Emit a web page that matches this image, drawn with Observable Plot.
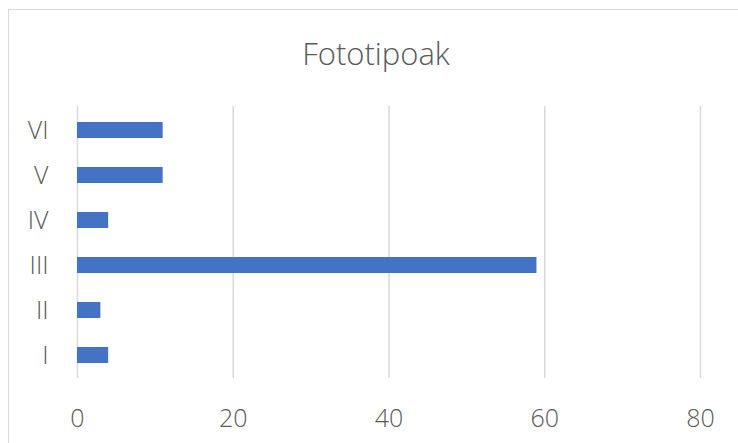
<!DOCTYPE html>
<html>
<head>
<meta charset="utf-8">
<script src="https://cdn.jsdelivr.net/npm/d3@7"></script>
<script src="https://cdn.jsdelivr.net/npm/@observablehq/plot@0.6"></script>
<style>
  html, body { margin: 0; padding: 0; background: #fff; }
  #wrap { position: relative; width: 738px; height: 443px; overflow: hidden; background: #fff; font-family: "Open Sans", sans-serif; }
  #border { position: absolute; left: 8px; top: 9px; width: 800px; height: 500px; border: 1px solid #d9d9d9; box-sizing: border-box; }
  #title { position: absolute; left: 0; top: 31px; width: 752px; text-align: center; font-size: 31px; font-weight: 300; color: #595959; line-height: 44px; }
  #chart { position: absolute; left: 0; top: 90px; }
</style>
</head>
<body>
<div id="wrap">
  <div id="border"></div>
  <div id="title">Fototipoak</div>
  <div id="chart"></div>
</div>
<script>
const categories = ["I", "II", "III", "IV", "V", "VI"];
const values = [4, 3, 59, 4, 11, 11];
const xTicks = [0, 20, 40, 60, 80];

const data = categories.map((c, i) => ({category: c, value: values[i]}));

const plot = Plot.plot({
  width: 738,
  height: 353,
  marginTop: 16,
  marginBottom: 65,
  marginLeft: 77,
  marginRight: 38,
  style: {fontFamily: "Open Sans, sans-serif", fontSize: "25px", fontWeight: 300, color: "#595959", background: "transparent"},
  x: {domain: [0, 80], ticks: xTicks, label: null},
  y: {domain: categories.slice().reverse(), label: null, paddingInner: 0.65, paddingOuter: 0.325},
  marks: [
    Plot.gridX(xTicks, {stroke: "#d9d9d9", strokeOpacity: 1, strokeWidth: 1.5}),
    Plot.barX(data, {x: "value", y: "category", fill: "#4472c4"}),
    Plot.axisX({ticks: xTicks, tickSize: 0, tickPadding: 31, label: null, fill: "#595959"}),
    Plot.axisY({tickSize: 0, tickPadding: 29, label: null, fill: "#595959"})
  ]
});
document.getElementById("chart").appendChild(plot);
</script>
</body>
</html>
